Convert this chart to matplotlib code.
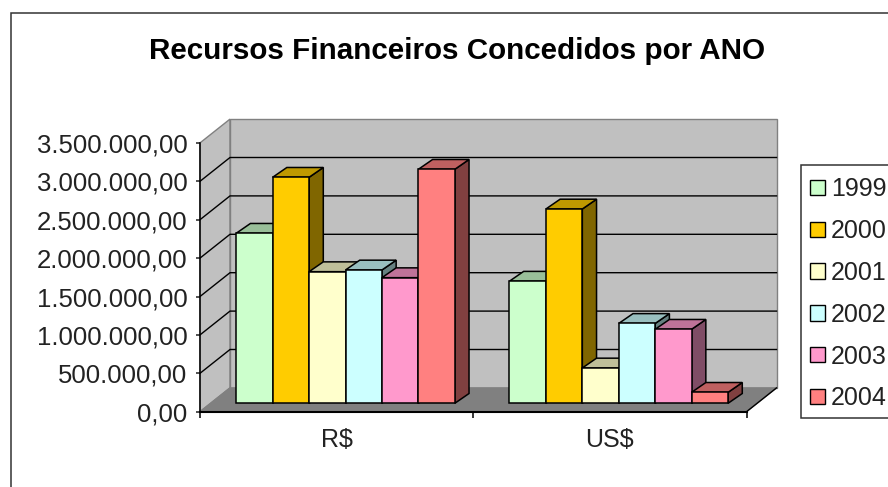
import numpy as np
import matplotlib
matplotlib.use('Agg')
import matplotlib.pyplot as plt
import matplotlib.ticker as ticker
from matplotlib.patches import Patch, Polygon, Rectangle
from matplotlib.colors import to_rgb

plt.rcParams['font.family'] = ['Liberation Sans', 'DejaVu Sans']

categories = ['R$', 'US$']
years = ['1999', '2000', '2001', '2002', '2003', '2004']
values_1999 = [2214000, 1590000]
values_2000 = [2943000, 2530000]
values_2001 = [1714000, 460000]
values_2002 = [1736000, 1040000]
values_2003 = [1636000, 964000]
values_2004 = [3047000, 143000]
series = [values_1999, values_2000, values_2001, values_2002, values_2003, values_2004]
colors = ['#CCFFCC', '#FFCC00', '#FFFFCC', '#CCFFFF', '#FF99CC', '#FF8080']
y_ticks = np.arange(0, 3500001, 500000)

W, H = 888, 487
fig = plt.figure(figsize=(W / 100, H / 100), dpi=100)

# outer chart frame, only left and top are visible in the picture
fig.add_artist(Rectangle((11 / W, -0.1), 1.1, 1.1 - 13 / H, transform=fig.transFigure,
                         fill=False, ec='#333333', lw=1.1))

ax = fig.add_axes([200 / W, (H - 411.7) / H, 546.5 / W, 268.8 / H])
ax.set_xlim(0, 2)
ax.set_ylim(0, 3500000)
ax.patch.set_visible(False)

# depth of the fake 3d box in data units
depth_x = 30 / 546.5 * 2
depth_y = 23.8 / 268.8 * 3500000


def poly(pts, **kw):
    ax.add_patch(Polygon(pts, closed=True, clip_on=False, **kw))


top = y_ticks[-1]
poly([(0, 0), (depth_x, depth_y), (depth_x, top + depth_y), (0, top)],
     fc='#C0C0C0', ec='#808080', lw=1, zorder=1)
poly([(depth_x, depth_y), (2 + depth_x, depth_y), (2 + depth_x, top + depth_y), (depth_x, top + depth_y)],
     fc='#C0C0C0', ec='#808080', lw=1, zorder=1)
poly([(0, 0), (2, 0), (2 + depth_x, depth_y), (depth_x, depth_y)],
     fc='#808080', ec='#808080', lw=1, zorder=1.2)

for v in y_ticks[1:-1]:
    ax.plot([0, depth_x, 2 + depth_x], [v, v + depth_y, v + depth_y],
            color='black', lw=1, clip_on=False, zorder=1.5)
ax.plot([2, 2 + depth_x], [0, depth_y], color='black', lw=1, clip_on=False, zorder=1.5)

# bars, left to right so each one covers the side of the previous one
bar_w = 1 / 7.5
front_x = 8.9 / 546.5 * 2
front_y = 8.4 / 268.8 * 3500000
bar_dx = 14.2 / 546.5 * 2
bar_dy = 9.8 / 268.8 * 3500000
centers = np.arange(len(categories)) + 0.5 + front_x

z = 3
for c in range(len(categories)):
    for i, vals in enumerate(series):
        x0 = centers[c] + (i - 3) * bar_w
        x1 = x0 + bar_w
        y0 = front_y
        y1 = front_y + vals[c]
        rgb = np.array(to_rgb(colors[i]))
        poly([(x1, y0), (x1 + bar_dx, y0 + bar_dy), (x1 + bar_dx, y1 + bar_dy), (x1, y1)],
             fc=rgb * 0.5, ec='black', lw=1.1, zorder=z, joinstyle='miter')
        poly([(x0, y1), (x1, y1), (x1 + bar_dx, y1 + bar_dy), (x0 + bar_dx, y1 + bar_dy)],
             fc=rgb * 0.75, ec='black', lw=1.1, zorder=z + 0.1, joinstyle='miter')
        ax.bar(x0, vals[c], bar_w, bottom=y0, align='edge', color=colors[i],
               edgecolor='black', lw=1.1, clip_on=False, zorder=z + 0.2)
        z += 1

ax.set_title('Recursos Financeiros Concedidos por ANO', fontsize=21.3, fontweight='bold', color='black',
             x=(457.5 - 200) / 546.5, y=(411.7 - 51) / 268.8, va='center', pad=0)

for s in ['top', 'right']:
    ax.spines[s].set_visible(False)
ax.spines['left'].set_linewidth(1.1)
ax.spines['bottom'].set_linewidth(1.5)

ax.yaxis.set_major_locator(ticker.FixedLocator(y_ticks))
ax.yaxis.set_major_formatter(ticker.FuncFormatter(
    lambda v, p: f'{v:,.2f}'.replace(',', 'X').replace('.', ',').replace('X', '.')))
ax.set_xticks([0, 1, 2])
ax.set_xticklabels([])
ax.set_xticks([0.5, 1.5], minor=True)
ax.set_xticklabels(categories, minor=True)
ax.tick_params(axis='y', labelsize=18.5, length=3, width=1.1, pad=6, colors='#222222')
ax.tick_params(axis='x', which='major', length=4, width=1.1)
ax.tick_params(axis='x', which='minor', length=0, labelsize=18, pad=12, colors='#222222')

# legend frame runs off the right edge like in the picture
fig.add_artist(Rectangle((800.5 / W, 1 - 418 / H), 0.2, (418 - 165) / H, transform=fig.transFigure,
                         fc='white', ec='#333333', lw=1.1))
handles = [Patch(fc=col, ec='black', lw=1) for col in colors]
leg = fig.legend(handles, years, loc='upper left', bbox_to_anchor=(799.5 / W, 1 - 167 / H),
                 borderaxespad=0, fontsize=18, frameon=False, handlelength=0.58, handleheight=0.58,
                 handletextpad=0.26, labelspacing=0.71, borderpad=0.42, labelcolor='#222222')

fig.savefig('out.png', dpi=100)
